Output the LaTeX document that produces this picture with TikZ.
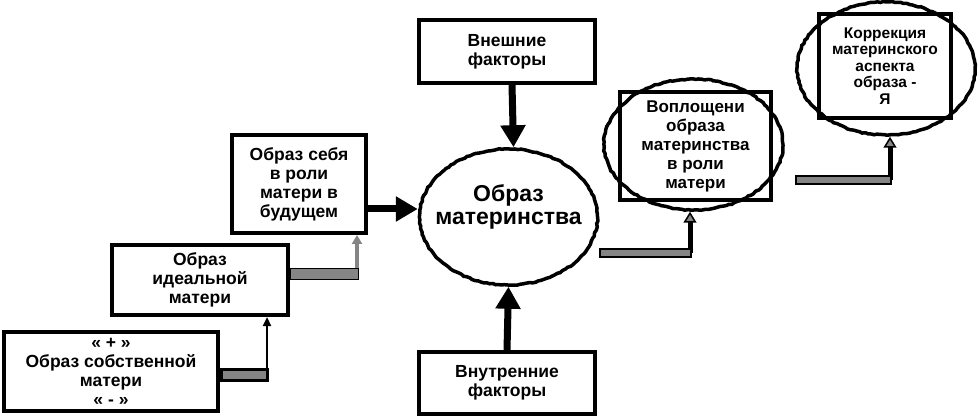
\documentclass[tikz,border=0pt]{standalone}
\usepackage{fontspec}
\setmainfont{Liberation Sans}
\usetikzlibrary{arrows.meta,positioning,shapes.geometric,decorations.pathmorphing}
\definecolor{bargray}{rgb}{0.52,0.52,0.52}

\begin{document}
\begin{tikzpicture}[x=1pt,y=-1pt,font=\bfseries\fontsize{17.5}{19}\selectfont,
   box/.style={draw,line width=4pt,fill=white,align=center,inner sep=1pt},
   oval/.style={draw,ellipse,line width=3.5pt,inner sep=0pt,decorate,
                decoration={random steps,segment length=3pt,amplitude=0.6pt}},
   fat/.style={line width=7pt,-{Triangle[length=22pt,width=24pt]}},
   bar/.style={line width=14pt,postaction={draw=bargray,line width=8pt,shorten <=3pt,shorten >=3pt}},
   thinbar/.style={line width=12pt,postaction={draw=bargray,line width=10pt,shorten <=1pt,shorten >=1pt}},
   flatbar/.style={line width=10pt,postaction={draw=bargray,line width=6pt,shorten <=2pt,shorten >=2pt}},
   up/.style={line width=5pt,-{Triangle[length=11pt,width=13pt,fill=bargray,line width=1.5pt]}}]
  \useasboundingbox (0,0) rectangle (979,419);
  % left staircase
  \node[box,minimum width=214pt,minimum height=79pt] (own) at (111,371.5)
       {« + »\\Образ собственной\\матери\\« - »};
  \node[box,minimum width=176pt,minimum height=70pt] (ideal) at (200,280) {Образ\\идеальной\\матери};
  \node[box,minimum width=134pt,minimum height=98pt] (future) at (299,184)
       {Образ себя\\в роли\\матери в\\будущем};
  % factors and the central oval
  \node[box,minimum width=176pt,minimum height=63pt] (ext) at (507,51.5) {Внешние\\факторы};
  \node[box,minimum width=176pt,minimum height=62pt] (int) at (507,383) {Внутренние\\факторы};
  \node[oval,minimum width=178pt,minimum height=136pt,
        label={[align=center,yshift=10pt,font=\bfseries\fontsize{23}{23}\selectfont]center:Образ\\материнства}]
       (main) at (508.5,217) {};
  % right side
  \node[box,minimum width=151pt,minimum height=108pt,font=\bfseries\fontsize{17}{19}\selectfont] (embody) at (695.5,146)
       {Воплощени\\образа\\материнства\\в роли\\матери};
  \node[oval,minimum width=179pt,minimum height=131pt] (embodyoval) at (693.5,144.5) {};
  \node[box,minimum width=132pt,minimum height=104pt,font=\bfseries\fontsize{15.5}{16.5}\selectfont] (corr) at (885,66)
       {Коррекция\\материнского\\аспекта\\образа -\\Я};
  \node[oval,minimum width=178pt,minimum height=133pt] (corroval) at (886,68.5) {};

  \coordinate (c1) at (267,375);
  \coordinate (c2) at (357,274);
  \coordinate (c3) at (690,253);
  \coordinate (c4) at (890,180);

  \draw[line width=2.5pt,-{Triangle[length=9pt,width=8pt]}] (c1) -- (ideal.south -| c1);
  \draw[bar] (own.east |- c1) -- ([xshift=2pt]c1);
  \draw[bargray,line width=4pt,-{Triangle[length=9pt,width=10pt]}] (c2) -- (future.south -| c2);
  \draw[thinbar] (ideal.east |- c2) -- ([xshift=2pt]c2);

  \draw[fat] ([yshift=-25pt]future.east) -- ([yshift=8pt]main.west);
  \draw[fat] ([xshift=5pt]ext.south) -- ([xshift=5pt]main.north);
  \draw[fat] (int.north) -- (main.south);

  \draw[up] (c3) -- (embodyoval.south -| c3);
  \draw[flatbar] (main.east |- c3) -- ([xshift=2pt]c3);
  \draw[up] (c4) -- (corroval.south -| c4);
  \draw[flatbar] ([xshift=10pt]embodyoval.east |- c4) -- ([xshift=2pt]c4);
\end{tikzpicture}
\end{document}
